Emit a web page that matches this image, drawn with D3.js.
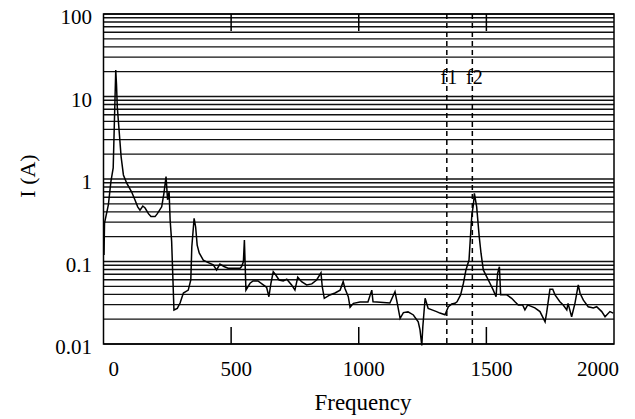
<!DOCTYPE html>
<html lang="en">
<head>
<meta charset="utf-8">
<script src="https://cdn.jsdelivr.net/npm/d3@7"></script>
<style>
    body { margin: 0; background: #fff; }
    text { font-family: "Liberation Serif", "DejaVu Serif", serif; fill: #000; }
</style>
</head>
<body>
<div id="chart"></div>
<script>
    // spectrum
    const freq = [2, 4, 19, 29, 38, 48, 51, 54, 69, 78, 91, 110, 123, 134, 143, 154, 163, 176, 186, 202,
        211, 228, 237, 245, 251, 257, 261, 267, 276, 289, 300, 313, 332, 342, 346, 355, 361, 367, 375, 391,
        404, 430, 443, 456, 472, 488, 535, 541, 548, 552, 558, 574, 586, 605, 626, 639, 648, 656, 665, 675,
        688, 704, 718, 737, 750, 761, 776, 796, 816, 835, 852, 857, 865, 887, 907, 927, 939, 946, 959, 966,
        979, 1005, 1036, 1051, 1056, 1071, 1122, 1142, 1151, 1162, 1175, 1193, 1214, 1233, 1240, 1247, 1251, 1260, 1272, 1287,
        1305, 1318, 1338, 1351, 1364, 1377, 1385, 1399, 1410, 1420, 1432, 1436, 1443, 1449, 1453, 1462, 1472, 1479, 1488, 1501,
        1514, 1527, 1538, 1544, 1551, 1556, 1580, 1599, 1612, 1625, 1642, 1651, 1662, 1671, 1690, 1710, 1730, 1736, 1749, 1760,
        1769, 1788, 1801, 1815, 1820, 1834, 1847, 1860, 1867, 1880, 1899, 1919, 1932, 1952, 1965, 1984, 1997];
    const current = [0.12, 0.293, 0.484, 0.93, 1.36, 20.9, 13.8, 7.5, 1.86, 1.12, 0.89, 0.70, 0.56, 0.46, 0.42, 0.47, 0.445, 0.38, 0.35, 0.35,
        0.38, 0.46, 0.68, 1.07, 0.56, 0.70, 0.32, 0.174, 0.0258, 0.027, 0.0314, 0.0415, 0.045, 0.0597, 0.151, 0.334, 0.262, 0.158, 0.127, 0.104,
        0.099, 0.091, 0.079, 0.093, 0.087, 0.083, 0.083, 0.087, 0.099, 0.182, 0.045, 0.0545, 0.058, 0.058, 0.052, 0.0487, 0.0374, 0.0545, 0.075, 0.0686,
        0.0597, 0.058, 0.061, 0.052, 0.045, 0.0645, 0.057, 0.052, 0.0535, 0.0597, 0.073, 0.0495, 0.0358, 0.0393, 0.0415, 0.045, 0.057, 0.047, 0.0374, 0.0279,
        0.0311, 0.0323, 0.0323, 0.045, 0.0325, 0.0323, 0.0314, 0.043, 0.0311, 0.0205, 0.024, 0.0245, 0.0225, 0.0186, 0.0148, 0.0096, 0.0162, 0.0358, 0.027, 0.0259,
        0.0247, 0.0237, 0.0226, 0.0283, 0.0305, 0.0311, 0.0325, 0.0394, 0.0545, 0.079, 0.104, 0.166, 0.366, 0.484, 0.67, 0.46, 0.2, 0.126, 0.079, 0.0655,
        0.0545, 0.045, 0.0374, 0.072, 0.0865, 0.0394, 0.0394, 0.0358, 0.0325, 0.0297, 0.0297, 0.0259, 0.0297, 0.029, 0.0274, 0.0247, 0.0186, 0.0238, 0.046, 0.046,
        0.0394, 0.0325, 0.0297, 0.0259, 0.0311, 0.0214, 0.0311, 0.052, 0.0412, 0.034, 0.0283, 0.0274, 0.0283, 0.0247, 0.0214, 0.0247, 0.0237];
    const xTicks = [0, 500, 1000, 1500, 2000];
    const yTicks = [0.01, 0.1, 1, 10, 100];
    const yTickLabels = ['0.01', '0.1', '1', '10', '100'];
    const markers = [{name: 'f1', f: 1345}, {name: 'f2', f: 1445}];

    const width = 635, height = 419;
    const margin = {top: 14, right: 21, bottom: 75, left: 103.5};

    const svg = d3.select('#chart').append('svg')
        .attr('width', width).attr('height', height);

    const x = d3.scaleLinear().domain([0, 2000]).range([margin.left, width - margin.right]);
    const y = d3.scaleLog().domain([0.01, 100]).range([height - margin.bottom, margin.top]);

    // one grid line for every minor log value
    const gridVals = [];
    for (let e = -2; e < 2; e++) {
        for (let m = 1; m < 10; m++) gridVals.push(m * Math.pow(10, e));
    }
    gridVals.push(100);

    svg.append('g').selectAll('line')
        .data(gridVals)
        .enter().append('line')
        .attr('x1', x(0)).attr('x2', x(2000))
        .attr('y1', d => y(d)).attr('y2', d => y(d))
        .attr('stroke', '#111').attr('stroke-width', 1.4);

    // inner ticks top and bottom
    const tickLen = 17;
    const inner = xTicks.slice(1, -1);
    svg.append('g').selectAll('line')
        .data(inner)
        .enter().append('line')
        .attr('x1', d => x(d)).attr('x2', d => x(d))
        .attr('y1', y(0.01)).attr('y2', y(0.01) - tickLen)
        .attr('stroke', '#000').attr('stroke-width', 1.5);
    svg.append('g').selectAll('line')
        .data(inner)
        .enter().append('line')
        .attr('x1', d => x(d)).attr('x2', d => x(d))
        .attr('y1', y(100)).attr('y2', y(100) + tickLen)
        .attr('stroke', '#000').attr('stroke-width', 1.5);

    // f1 / f2 dashed markers
    svg.append('g').selectAll('line')
        .data(markers)
        .enter().append('line')
        .attr('x1', d => x(d.f)).attr('x2', d => x(d.f))
        .attr('y1', y(100)).attr('y2', y(0.01))
        .attr('stroke', '#000').attr('stroke-width', 1.5)
        .attr('stroke-dasharray', '5,4');
    svg.append('g').selectAll('text')
        .data(markers)
        .enter().append('text')
        .attr('x', d => x(d.f) + 2).attr('y', 84)
        .attr('text-anchor', 'middle')
        .style('font-size', '20px')
        .text(d => d.name);

    // frame
    svg.append('rect')
        .attr('x', x(0)).attr('y', y(100))
        .attr('width', x(2000) - x(0)).attr('height', y(0.01) - y(100))
        .attr('fill', 'none').attr('stroke', '#000').attr('stroke-width', 1.5);

    // spectrum
    const line = d3.line()
        .x((d, i) => x(freq[i]))
        .y(d => y(d));
    svg.append('path')
        .datum(current)
        .attr('d', line)
        .attr('fill', 'none')
        .attr('stroke', '#000')
        .attr('stroke-width', 1.5);

    // tick labels
    svg.append('g').selectAll('text')
        .data(yTicks)
        .enter().append('text')
        .attr('x', 92).attr('y', d => y(d) + 10)
        .attr('text-anchor', 'end')
        .style('font-size', '21px')
        .text((d, i) => yTickLabels[i]);

    svg.append('g').selectAll('text')
        .data(xTicks)
        .enter().append('text')
        .attr('x', d => x(d) + 5)
        .attr('y', 376)
        .attr('text-anchor', (d, i) => i === 0 ? 'start' : (i === xTicks.length - 1 ? 'end' : 'middle'))
        .style('font-size', '21px')
        .text(d => d);

    svg.append('text')
        .attr('x', 363).attr('y', 410)
        .attr('text-anchor', 'middle')
        .style('font-size', '23px')
        .text('Frequency');

    svg.append('text')
        .attr('transform', 'translate(35,176) rotate(-90)')
        .attr('text-anchor', 'middle')
        .style('font-size', '22px')
        .text('I (A)');
</script>
</body>
</html>
